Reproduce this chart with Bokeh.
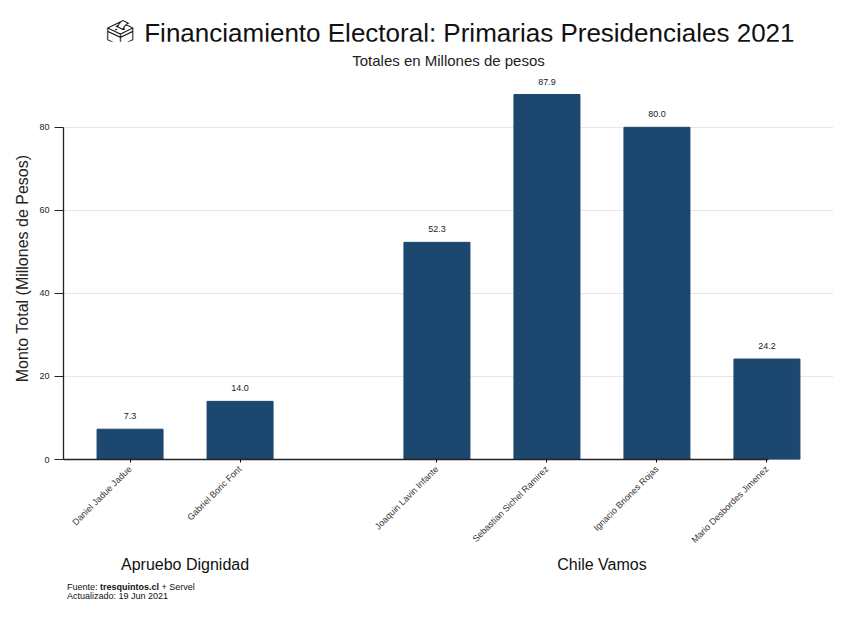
from bokeh.plotting import figure
from bokeh.models import (FactorRange, Range1d, FixedTicker, Title, Div,
                          ColumnDataSource, LabelSet)
from bokeh.layouts import column
from bokeh.core.properties import value
from bokeh.embed import file_html
from bokeh.resources import INLINE

# ---- data ----
coalitions = ["Apruebo Dignidad", "Apruebo Dignidad",
              "Chile Vamos", "Chile Vamos", "Chile Vamos", "Chile Vamos"]
candidates = ["Daniel Jadue Jadue", "Gabriel Boric Font",
              "Joaquin Lavin Infante", "Sebastian Sichel Ramirez",
              "Ignacio Briones Rojas", "Mario Desbordes Jimenez"]
montos = [7.3, 14.0, 52.3, 87.9, 80.0, 24.2]
y_ticks = [0, 20, 40, 60, 80]

FONT = "Liberation Sans"
BAR = "#1c476f"

factors = list(zip(coalitions, candidates))
labels = [f"{v:.1f}" for v in montos]
src = ColumnDataSource(dict(x=factors, top=montos, lab=labels))

header = Div(text="\U0001F5F3 Financiamiento Electoral: Primarias Presidenciales 2021",
             width=840, height=41, margin=(0, 0, 0, 0),
             styles={"font-family": FONT, "font-size": "26px", "line-height": "30px",
                     "color": "#111111", "padding-left": "104px", "padding-top": "18px",
                     "white-space": "nowrap"})

p = figure(width=840, height=538, output_backend="svg", toolbar_location=None,
           x_range=FactorRange(*factors, group_padding=0.79,
                               range_padding=0.105, range_padding_units="absolute"),
           y_range=Range1d(0, 92),
           min_border_left=63, min_border_right=7, min_border_bottom=120,
           min_border_top=35, margin=(0, 0, 0, 0))
p.title.visible = False

p.vbar(x="x", top="top", width=0.6, source=src, color=BAR, line_color=BAR)

ls = LabelSet(x="x", y="top", text="lab", source=src, text_align="center",
              text_baseline="middle", y_offset=13, text_font_size="9px",
              text_font=value(FONT), text_color="#222222")
p.add_layout(ls)

# subtitle
p.add_layout(Title(text="Totales en Millones de pesos", align="center",
                   text_font=FONT, text_font_size="15px", text_font_style="normal",
                   text_color="#222222", standoff=17), "above")

# axes
p.outline_line_color = None
p.xgrid.grid_line_color = None
p.ygrid.grid_line_color = "#e6e6e6"
p.ygrid.ticker = FixedTicker(ticks=y_ticks)

ya = p.yaxis[0]
ya.ticker = FixedTicker(ticks=y_ticks)
ya.bounds = (0, 80)
ya.axis_label = "Monto Total (Millones de Pesos)"
ya.axis_label_text_font = FONT
ya.axis_label_text_font_size = "16px"
ya.axis_label_text_font_style = "normal"
ya.axis_label_text_color = "#222222"
ya.major_label_text_font = FONT
ya.major_label_text_font_size = "9px"
ya.major_label_text_color = "#222222"
ya.major_label_standoff = 5
ya.major_tick_out = 9
ya.major_tick_in = 0
ya.minor_tick_line_color = None
ya.axis_line_color = "#222222"
ya.axis_line_width = 1.3
ya.major_tick_line_color = "#222222"

xa = p.xaxis[0]
xa.bounds = (-0.105, 6.3)
xa.major_label_orientation = 0.785398
xa.major_label_text_font = FONT
xa.major_label_text_font_size = "9px"
xa.major_label_text_color = "#333333"
xa.group_text_font = FONT
xa.group_text_font_size = "16px"
xa.group_text_font_style = "normal"
xa.group_text_color = "#111111"
xa.group_label_orientation = "horizontal"
xa.separator_line_alpha = 0
xa.major_tick_out = 3
xa.major_tick_in = 0
xa.axis_line_color = "#222222"
xa.axis_line_width = 1.3

# footer
footer = Div(text="Fuente: <b>tresquintos.cl</b> + Servel<br>Actualizado: 19 Jun 2021",
             width=840, height=28, margin=(0, 0, 0, 0),
             styles={"font-family": FONT, "font-size": "9px", "line-height": "9px",
                     "color": "#111111", "padding-left": "67px", "padding-top": "4px"})

layout = column(header, p, footer, spacing=0)
open("out.html", "w").write(file_html(layout, INLINE))
